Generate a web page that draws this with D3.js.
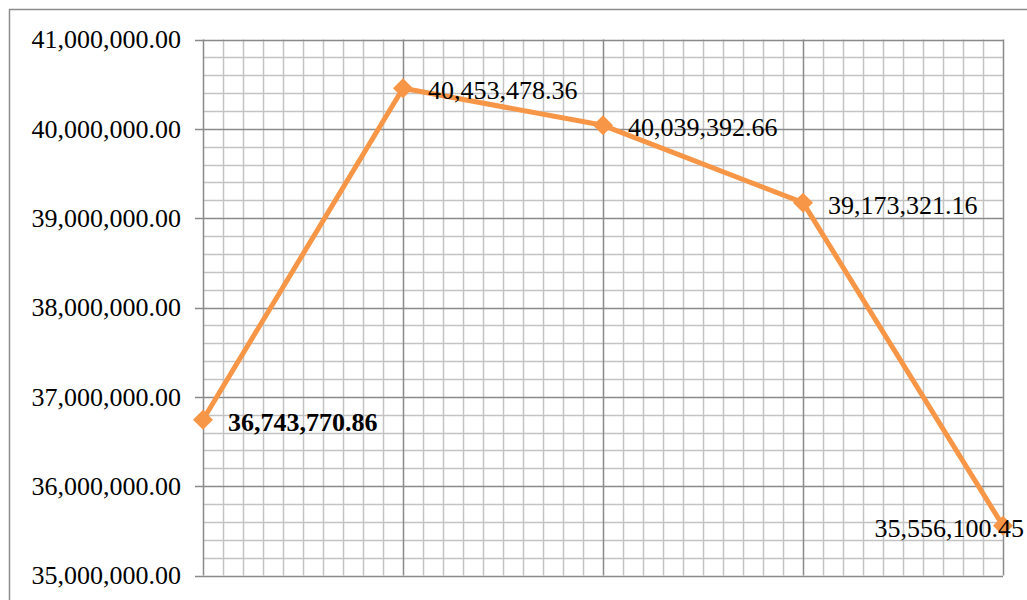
<!DOCTYPE html>
<html><head><meta charset="utf-8">
<script src="https://cdn.jsdelivr.net/npm/d3@7"></script>
<style>body{margin:0;background:#fff}svg{display:block}</style>
</head><body>
<svg id="c" width="1027" height="600"></svg>
<script>
const categories = ["1", "2", "3", "4", "5"];
const values = [36743770.86, 40453478.36, 40039392.66, 39173321.16, 35556100.45];
const yTicks = [35000000, 36000000, 37000000, 38000000, 39000000, 40000000, 41000000];

const svg = d3.select("#c");
const L = 203, R = 1003, T = 39.5, B = 575.5;
const x = d3.scalePoint().domain(categories).range([L, R]);
const xi = d3.scaleLinear().domain([0, categories.length - 1]).range([L, R]);
const y = d3.scaleLinear().domain([35000000, 41000000]).range([B, T]);
const fmt = d3.format(",.2f");
const FS = 26;

// outer border
svg.append("rect").attr("x", 9.5).attr("y", 9.5).attr("width", 1030).attr("height", 600)
  .attr("fill", "none").attr("stroke", "#8c8c8c").attr("stroke-width", 1.5);

const g = svg.append("g");
// minor horizontal grid
d3.range(35000000, 41000001, 200000).forEach(v => {
  if (v % 1000000 !== 0) g.append("line").attr("x1", L).attr("x2", R)
    .attr("y1", Math.round(y(v)) + 0.5).attr("y2", Math.round(y(v)) + 0.5)
    .attr("stroke", "#c3c3c3").attr("stroke-width", 1.5);
});
// minor vertical grid
d3.range(0, categories.length - 1 + 0.001, 0.1).forEach(t => {
  const k = Math.round(t * 10);
  if (k % 10 !== 0) g.append("line").attr("y1", T).attr("y2", B)
    .attr("x1", Math.round(xi(t)) + 0.5).attr("x2", Math.round(xi(t)) + 0.5)
    .attr("stroke", "#c3c3c3").attr("stroke-width", 1.5);
});
// major horizontal grid
yTicks.forEach(v => {
  g.append("line").attr("x1", L - 8).attr("x2", R)
    .attr("y1", Math.round(y(v)) + 0.5).attr("y2", Math.round(y(v)) + 0.5)
    .attr("stroke", "#8a8a8a").attr("stroke-width", 1.5);
});
// major vertical grid
categories.forEach(c => {
  g.append("line").attr("y1", T).attr("y2", B)
    .attr("x1", Math.round(x(c)) + 0.5).attr("x2", Math.round(x(c)) + 0.5)
    .attr("stroke", "#8a8a8a").attr("stroke-width", 1.5);
});

// y axis labels
const yAxis = d3.axisLeft(y).tickValues(yTicks).tickFormat(fmt).tickSize(0).tickPadding(22);
const ax = svg.append("g").attr("transform", `translate(${L},0)`).call(yAxis);
ax.select(".domain").remove();
ax.selectAll("text").attr("font-family", "'Liberation Serif', 'Times New Roman', serif")
  .attr("font-size", FS).attr("fill", "#000");

// line
const data = categories.map((c, i) => ({c, v: values[i]}));
svg.append("path").datum(data)
  .attr("d", d3.line().x(d => x(d.c)).y(d => y(d.v)))
  .attr("fill", "none").attr("stroke", "#F79646").attr("stroke-width", 5)
  .attr("stroke-linejoin", "round");

// markers
svg.selectAll(".m").data(data).join("path")
  .attr("transform", d => `translate(${x(d.c)},${y(d.v)})`)
  .attr("d", "M0,-10L10,0L0,10L-10,0Z")
  .attr("fill", "#F79646");

// labels
svg.selectAll(".lbl").data(data).join("text")
  .attr("x", (d, i) => i === data.length - 1 ? 1024 : x(d.c) + 25)
  .attr("y", d => y(d.v) + 2)
  .attr("dy", "0.35em")
  .attr("text-anchor", (d, i) => i === data.length - 1 ? "end" : "start")
  .attr("font-family", "'Liberation Serif', 'Times New Roman', serif")
  .attr("font-size", FS)
  .attr("font-weight", (d, i) => i === 0 ? "bold" : "normal")
  .attr("fill", "#000")
  .text(d => fmt(d.v));
</script>
</body></html>
